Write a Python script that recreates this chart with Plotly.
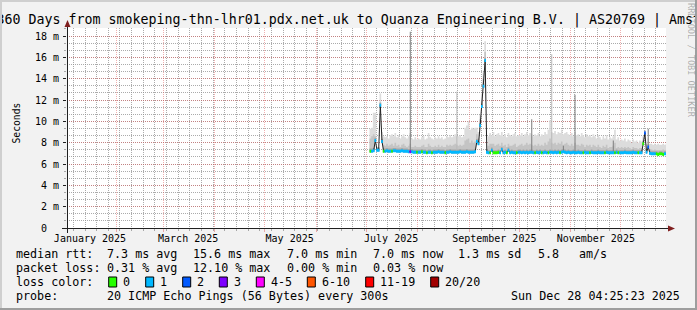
import pandas as pd
import plotly.graph_objects as go

W, H = 697, 310
MONO = "DejaVu Sans Mono"

# ---------------- data ----------------
TITLE = "360 Days from smokeping-thn-lhr01.pdx.net.uk to Quanza Engineering B.V. | AS20769 | Amsterdam"
range_start = "2025-01-02 04:25:23"
range_end = "2025-12-28 04:25:23"
first_day = "2025-07-03"

# median rtt per day (ms)
median_jul = [7.2, 7.2, 7.25, 8.2, 7.3, 7.3, 11.5, 8.1, 7.2, 7.2, 7.25, 7.2, 7.2, 7.2, 7.25,
              7.25, 7.2, 7.2, 7.2, 7.25, 7.2, 7.2, 7.2, 7.15, 7.15, 7.15, 7.1, 7.1, 7.1]
median_aug = [7.1, 7.1, 7.15, 7.1, 7.1, 7.05, 7.1, 7.1, 7.05, 7.1, 7.1, 7.1, 7.15, 7.1, 7.1, 7.1,
              7.05, 7.1, 7.1, 7.15, 7.1, 7.1, 7.1, 7.1, 7.1, 7.15, 7.1, 7.1, 7.1, 7.15, 7.1]
median_sep = [7.1, 7.1, 7.1, 7.15, 8.1, 7.9, 9.6, 11.4, 13.3, 15.7, 7.1, 7.05, 7.05, 7.3, 7.05,
              7.05, 7.05, 7.1, 7.05, 7.35, 7.05, 7.1, 7.05, 7.3, 7.05, 7.1, 7.05, 7.05, 7.05, 7.1]
median_oct = [7.1, 7.05, 7.1, 7.05, 7.1, 7.05, 7.1, 7.1, 7.05, 7.05, 7.1, 7.05, 7.1, 7.05, 7.05, 7.1,
              7.05, 7.05, 7.1, 7.1, 7.05, 7.1, 7.05, 7.1, 7.05, 7.1, 7.15, 7.1, 7.05, 7.1, 7.05]
median_nov = [7.05, 7.1, 7.05, 7.05, 7.1, 7.05, 7.05, 7.05, 7.1, 7.05, 7.05, 7.05, 7.1, 7.05, 7.05,
              7.05, 7.1, 7.05, 7.05, 7.05, 7.05, 7.1, 7.05, 7.05, 7.05, 7.05, 7.05, 7.1, 7.05, 7.05]
median_dec = [7.05, 7.05, 7.1, 7.05, 7.05, 7.05, 7.05, 7.1, 7.05, 7.05, 7.05, 7.05, 7.05, 7.9,
              8.9, 7.1, 7.6, 7.0, 6.95, 6.95, 6.95, 6.95, 6.9, 6.95, 6.95, 6.9, 6.95, 6.95]

# upper edge of the light smoke (ms)
smoke_hi_jul = [9.3, 9.4, 10.8, 10.8, 7.6, 7.6, 12.6, 9.0, 8.6, 8.5, 8.6, 8.4, 8.7, 8.8, 8.6,
                8.9, 8.5, 8.7, 8.4, 8.6, 8.8, 8.5, 8.4, 8.6, 8.9, 8.4, 8.3, 8.5, 8.3]
smoke_hi_aug = [8.4, 8.3, 8.5, 8.6, 8.3, 8.4, 8.9, 8.5, 8.4, 8.3, 8.5, 8.4, 8.6, 8.4, 8.5, 8.3,
                8.4, 8.6, 8.5, 8.7, 8.5, 8.6, 8.8, 8.6, 8.6, 8.7, 8.5, 8.6, 9.4, 9.6, 10.0]
smoke_hi_sep = [9.2, 9.4, 9.3, 9.4, 9.4, 9.0, 10.6, 12.6, 14.6, 17.5, 7.3, 8.6, 8.9, 8.7, 9.0,
                8.6, 8.8, 8.9, 8.7, 9.0, 8.6, 8.8, 8.5, 8.9, 8.7, 8.6, 8.8, 8.9, 8.6, 8.7]
smoke_hi_oct = [8.7, 8.9, 8.6, 8.8, 9.0, 8.7, 8.9, 8.8, 8.6, 8.8, 8.7, 8.9, 8.6, 8.8, 8.7, 9.0,
                8.8, 9.2, 10.1, 9.0, 8.9, 9.1, 8.8, 9.0, 8.9, 9.2, 8.8, 8.9, 9.0, 8.8, 8.7]
smoke_hi_nov = [8.9, 8.6, 9.0, 8.7, 8.8, 8.6, 8.9, 8.7, 8.5, 8.8, 8.6, 8.7, 8.5, 8.8, 8.6,
                8.4, 8.7, 8.5, 8.3, 8.6, 8.4, 8.7, 8.3, 8.5, 8.4, 8.6, 9.2, 8.3, 8.5, 8.2]
smoke_hi_dec = [8.3, 8.2, 8.4, 8.1, 8.3, 8.2, 8.0, 8.3, 8.1, 8.2, 8.0, 8.2, 8.1, 8.6,
                9.1, 7.9, 8.4, 7.9, 7.9, 7.8, 7.9, 7.8, 7.9, 7.8, 7.8, 7.9, 7.8, 7.9]

# upper edge of the medium smoke (ms)
smoke_mid_jul = [8.4, 8.6, 8.8, 8.6, 7.5, 7.5, 11.8, 8.4, 7.8, 7.7, 7.9, 7.7, 7.8, 7.9, 7.7,
                 8.0, 7.7, 7.8, 7.6, 7.8, 7.9, 7.7, 7.6, 7.7, 7.9, 7.6, 7.6, 7.7, 7.6]
smoke_mid_aug = [7.6, 7.6, 7.7, 7.8, 7.6, 7.6, 7.9, 7.7, 7.6, 7.6, 7.7, 7.6, 7.8, 7.6, 7.7, 7.6,
                 7.6, 7.8, 7.7, 7.8, 7.7, 7.8, 7.9, 7.8, 7.7, 7.8, 7.7, 7.8, 8.2, 8.3, 8.4]
smoke_mid_sep = [8.0, 8.2, 8.0, 8.1, 8.8, 8.4, 10.2, 12.0, 14.0, 16.5, 7.2, 7.7, 7.9, 7.9, 7.9,
                 7.7, 7.8, 7.9, 7.7, 8.0, 7.7, 7.8, 7.6, 7.9, 7.7, 7.7, 7.8, 7.9, 7.6, 7.7]
smoke_mid_oct = [7.8, 7.9, 7.7, 7.8, 8.0, 7.8, 7.9, 7.8, 7.7, 7.8, 7.7, 7.9, 7.7, 7.8, 7.7, 8.0,
                 7.8, 8.1, 8.4, 8.0, 7.9, 8.0, 7.8, 8.0, 7.9, 8.1, 7.8, 7.9, 8.0, 7.8, 7.7]
smoke_mid_nov = [7.9, 7.7, 8.0, 7.8, 7.8, 7.7, 7.9, 7.8, 7.6, 7.8, 7.7, 7.8, 7.6, 7.8, 7.7,
                 7.6, 7.8, 7.6, 7.5, 7.7, 7.6, 7.8, 7.5, 7.6, 7.6, 7.7, 8.0, 7.5, 7.6, 7.5]
smoke_mid_dec = [7.6, 7.5, 7.6, 7.5, 7.6, 7.5, 7.4, 7.6, 7.5, 7.5, 7.4, 7.5, 7.5, 8.2,
                 9.0, 7.4, 7.8, 7.4, 7.35, 7.3, 7.35, 7.3, 7.3, 7.3, 7.3, 7.35, 7.3, 7.35]

# packet loss class per day (lost pings out of 20)
loss_jul = [0, 1, 1, 1, 1, 1, 1, 1, 0, 1, 1, 1, 1, 0, 1, 1, 1, 1, 1, 1, 1, 1, 1, 1, 3, 1, 1, 1, 0]
loss_aug = [1, 1, 0, 1, 1, 0, 1, 1, 0, 1, 1, 1, 1, 1, 1, 1, 0, 1, 1, 1, 1, 1, 1, 1, 1, 1, 1, 1, 1, 1, 1]
loss_sep = [1, 1, 1, 1, 1, 1, 1, 1, 1, 1, 1, 1, 0, 1, 0, 0, 0, 0, 1, 1, 1, 1, 0, 1, 1, 1, 1, 1, 0, 1]
loss_oct = [1, 1, 1, 1, 1, 1, 1, 1, 1, 0, 1, 1, 1, 0, 1, 1, 1, 0, 1, 1, 1, 1, 1, 1, 0, 1, 1, 1, 1, 1, 1]
loss_nov = [1, 1, 1, 1, 1, 1, 1, 0, 1, 1, 1, 0, 1, 1, 1, 1, 1, 1, 1, 1, 0, 1, 1, 1, 1, 1, 0, 1, 0, 1]
loss_dec = [1, 1, 1, 1, 1, 1, 1, 1, 1, 1, 0, 1, 1, 0, 2, 1, 2, 1, 1, 1, 1, 0, 0, 0, 0, 0, 1, 1]

# single-ping outliers (thin spikes)
dark_spike_dates = ["2025-07-27", "2025-10-08", "2025-10-27", "2025-11-03", "2025-11-26", "2025-12-17"]
dark_spike_tops = [18.4, 10.2, 7.7, 12.5, 8.2, 9.3]
light_spike_dates = ["2025-08-24", "2025-10-20"]
light_spike_tops = [12.8, 16.3]

# axes
y_tick_vals = [0, 2, 4, 6, 8, 10, 12, 14, 16, 18]
y_tick_text = ["0\u00a0\u00a0", "2 m", "4 m", "6 m", "8 m", "10 m", "12 m", "14 m", "16 m", "18 m"]
x_label_dates = ["2025-01-16", "2025-03-16", "2025-05-16", "2025-07-16", "2025-09-16", "2025-11-16"]
x_label_text = ["January 2025", "March 2025", "May 2025", "July 2025", "September 2025", "November 2025"]

# legend
loss_keys = [0, 1, 2, 3, 5, 10, 19, 20]
loss_labels = ["0", "1", "2", "3", "4-5", "6-10", "11-19", "20/20"]
loss_colors = ["#26ff00", "#00b8ff", "#0059ff", "#7e00ff", "#ff00ff", "#ff5500", "#ff0000", "#a10000"]
row_rtt = ["median rtt:", "7.3 ms avg", "15.6 ms max", "7.0 ms min", "7.0 ms now", "1.3 ms sd", "5.8", "am/s"]
row_loss = ["packet loss:", "0.31 % avg", "12.10 % max", "0.00 % min", "0.03 % now"]
row_probe = ["probe:", "20 ICMP Echo Pings (56 Bytes) every 300s", "Sun Dec 28 04:25:23 2025"]
watermark = "RRDTOOL / TOBI OETIKER"

# ---------------- build ----------------
median = median_jul + median_aug + median_sep + median_oct + median_nov + median_dec
smoke_hi = smoke_hi_jul + smoke_hi_aug + smoke_hi_sep + smoke_hi_oct + smoke_hi_nov + smoke_hi_dec
smoke_mid = smoke_mid_jul + smoke_mid_aug + smoke_mid_sep + smoke_mid_oct + smoke_mid_nov + smoke_mid_dec
loss = loss_jul + loss_aug + loss_sep + loss_oct + loss_nov + loss_dec
days = pd.date_range(first_day, periods=len(median), freq="D")
DAY = pd.Timedelta(days=1)
med_by_day = dict(zip(days, median))

SW = 0.14      # half thickness of the loss-coloured median band (ms)
CORE = 0.25    # darker smoke just above median (ms)


def iso(t):
    return t.strftime("%Y-%m-%d %H:%M:%S")


def day_rects(dlist, lows, highs, f0=0.0, f1=1.0):
    xs, ys = [], []
    for d, lo, hi in zip(dlist, lows, highs):
        a, b = iso(d + DAY * f0), iso(d + DAY * f1)
        xs += [a, b, b, a, a, None]
        ys += [lo, lo, hi, hi, lo, None]
    return xs, ys


fig = go.Figure()


def poly(xs, ys, color, xaxis="x"):
    fig.add_trace(go.Scatter(x=xs, y=ys, mode="lines", fill="toself", fillcolor=color,
                             line=dict(width=0, color=color), hoverinfo="skip",
                             showlegend=False, xaxis=xaxis, yaxis="y"))


base = [m - 0.1 for m in median]
poly(*day_rects(days, base, smoke_hi), "#dcdcdc")
poly(*day_rects(days, base, smoke_mid), "#c4c4c4")
poly(*day_rects(days, base, [m + CORE for m in median]), "#a6a6a6")

ld = [pd.Timestamp(d) for d in light_spike_dates]
poly(*day_rects(ld, [med_by_day[d] for d in ld], light_spike_tops, 0.2, 0.8), "#b8b8b8")
dd = [pd.Timestamp(d) for d in dark_spike_dates]
poly(*day_rects(dd, [med_by_day[d] for d in dd], dark_spike_tops, 0.2, 0.8), "#7c7c7c")

# thin dark median line
fig.add_trace(go.Scatter(x=[iso(d + DAY / 2) for d in days], y=median, mode="lines",
                         line=dict(color="#202020", width=1), hoverinfo="skip",
                         showlegend=False, xaxis="x2", yaxis="y"))

# loss-coloured median band
for key, col in zip(loss_keys, loss_colors):
    sel = [i for i, l in enumerate(loss) if l == key]
    if not sel:
        continue
    poly(*day_rects([days[i] for i in sel], [median[i] - SW for i in sel],
                    [median[i] + SW for i in sel]), col, xaxis="x2")

# title as clipped text (clipped by its own subplot like rrdtool does)
title_font = 13.3
fig.add_trace(go.Scatter(x=[-3.5], y=[24 - 0.25 * title_font], mode="text", text=[TITLE],
                         textposition="middle right",
                         textfont=dict(family=MONO, size=title_font, color="#000000"),
                         cliponaxis=True, hoverinfo="skip", showlegend=False,
                         xaxis="x3", yaxis="y3"))


# ---------------- decorations ----------------
def px(x):
    return x / W


def py(y):
    return 1 - y / H


shapes = []


def rect(x0, y0, x1, y1, fill, line=None, layer="above"):
    shapes.append(dict(type="rect", xref="paper", yref="paper", x0=px(x0), x1=px(x1),
                       y0=py(y1), y1=py(y0), fillcolor=fill, layer=layer,
                       line=dict(width=0) if line is None else dict(color=line, width=1)))


X0, X1, YT, YB = 67, 666, 28, 228
rect(X0, YT, X1, YB, "#ffffff", layer="below")
# 3D frame
rect(0, 0, 697, 2, "#cfcfcf")
rect(0, 0, 2, 310, "#cfcfcf")
rect(0, 308, 697, 310, "#9e9e9e")
rect(695, 0, 697, 310, "#9e9e9e")
# axis lines + arrows
shapes.append(dict(type="line", xref="paper", yref="paper", x0=px(62), x1=px(670),
                   y0=py(228.5), y1=py(228.5), line=dict(color="#1f1f1f", width=1), layer="above"))
shapes.append(dict(type="line", xref="paper", yref="paper", x0=px(67.5), x1=px(67.5),
                   y0=py(233), y1=py(24), line=dict(color="#1f1f1f", width=1), layer="above"))
shapes.append(dict(type="path", xref="paper", yref="paper", layer="above",
                   path=f"M {px(668)} {py(225.5)} L {px(675)} {py(228.5)} L {px(668)} {py(231.5)} Z",
                   fillcolor="#801f1f", line=dict(width=0)))
shapes.append(dict(type="path", xref="paper", yref="paper", layer="above",
                   path=f"M {px(64.5)} {py(27)} L {px(67.5)} {py(20)} L {px(70.5)} {py(27)} Z",
                   fillcolor="#801f1f", line=dict(width=0)))

anns = []


def txt(x, y, s, size=11.7, anchor="left", color="#000000", angle=0):
    anns.append(dict(x=px(x), y=py(y), xref="paper", yref="paper", text=s, showarrow=False,
                     xanchor=anchor, yanchor="middle", textangle=angle, borderpad=0,
                     borderwidth=0, font=dict(family=MONO, size=size, color=color)))


for s, x in zip(row_rtt, [16, 107, 193.3, 286.7, 372.7, 458.3, 537.7, 579.3]):
    txt(x, 254, s)
for s, x in zip(row_loss, [16, 107, 193.3, 286.7, 372.7]):
    txt(x, 268, s)
txt(16, 282, "loss color:")
box_x = [108.7, 145.7, 182.7, 219.3, 256.3, 307.3, 365.7, 430.7]
for bx, lab, col in zip(box_x, loss_labels, loss_colors):
    rect(bx, 277, bx + 8, 287, col, line="#000000")
    txt(bx + 14.3, 282, lab)
txt(16, 296, row_probe[0])
txt(107, 296, row_probe[1])
txt(680, 296, row_probe[2], anchor="right")
txt(11, 123, "Seconds", size=9.7, angle=-90)
txt(686, 60, watermark, size=8.6, color="rgba(0,0,0,0.3)", angle=90)

GRID = "rgba(143,143,143,0.75)"
MGRID = "rgba(222,79,79,0.45)"
dom_x = [px(X0), px(X1)]
dom_y = [py(YB), py(YT)]

fig.update_layout(
    width=W, height=H, autosize=False,
    margin=dict(l=0, r=0, t=0, b=0, pad=0, autoexpand=False),
    paper_bgcolor="#f2f2f2", plot_bgcolor="rgba(0,0,0,0)", showlegend=False,
    xaxis=dict(domain=dom_x, type="date", range=[range_start, range_end], anchor="y",
               showgrid=True, gridcolor=MGRID, griddash="1px,1px", gridwidth=1,
               dtick="M1", tick0="2025-01-01", showticklabels=False, automargin=False,
               ticks="outside", ticklen=3, tickcolor=MGRID, zeroline=False, showline=False,
               minor=dict(dtick=7 * 86400000, tick0="2025-01-06", showgrid=True, gridcolor=GRID,
                          griddash="1px,1px", ticks="outside", ticklen=2, tickcolor=GRID),
               fixedrange=True),
    xaxis2=dict(domain=dom_x, type="date", range=[range_start, range_end], overlaying="x",
                anchor="y", side="bottom", showgrid=False, zeroline=False, showline=False,
                tickmode="array", tickvals=x_label_dates, ticktext=x_label_text, ticks="",
                tickfont=dict(family=MONO, size=10, color="#000000"), ticklabelstandoff=3,
                automargin=False, fixedrange=True),
    yaxis=dict(domain=dom_y, range=[0, 18.75], anchor="x", tickmode="array",
               tickvals=y_tick_vals, ticktext=y_tick_text, showgrid=True, gridcolor=MGRID,
               griddash="1px,1px", zeroline=False, showline=False, ticks="outside", ticklen=3,
               tickcolor="#1f1f1f", tickfont=dict(family=MONO, size=10, color="#000000"),
               ticklabelstandoff=2, automargin=False,
               minor=dict(dtick=2 / 3, tick0=0, showgrid=True, gridcolor=GRID, griddash="1px,1px",
                          ticks="outside", ticklen=2, tickcolor=GRID),
               fixedrange=True),
    xaxis3=dict(domain=[0, 1], range=[0, W], anchor="y3", visible=False, fixedrange=True),
    yaxis3=dict(domain=[py(30), 1], range=[30, 0], anchor="x3", visible=False, fixedrange=True),
    shapes=shapes, annotations=anns,
)

fig.write_html("out.html", config={"responsive": False, "displayModeBar": False})
